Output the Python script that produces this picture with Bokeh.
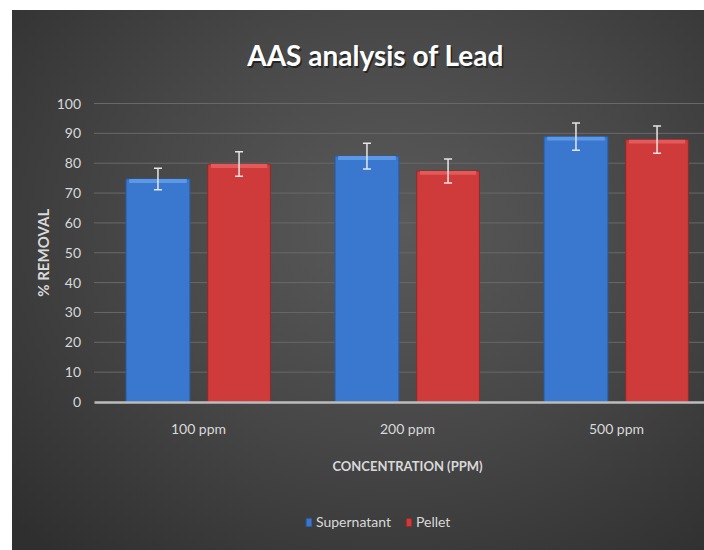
import math
from bokeh.plotting import figure
from bokeh.models import (Range1d, LinearAxis, FixedTicker, Whisker, ColumnDataSource,
                          Legend, LegendItem, Label)
from bokeh.core.properties import value
from bokeh.embed import file_html
from bokeh.resources import INLINE

# ---- data ----
categories = ["100 ppm", "200 ppm", "500 ppm"]
supernatant = [74.7, 82.4, 88.9]
supernatant_err = [3.6, 4.3, 4.6]
pellet = [79.7, 77.4, 87.9]
pellet_err = [4.1, 4.0, 4.6]
y_ticks = [0, 10, 20, 30, 40, 50, 60, 70, 80, 90, 100]

TXT = "#d9d9d9"
FONT = "Lato"

# the frame covers the whole chart area; the axes sit at fixed data locations inside it
p = figure(width=692, height=540, output_backend="svg", toolbar_location=None,
           x_range=Range1d(-0.89, 2.421), y_range=Range1d(-49.75, 131.16),
           x_axis_type=None, y_axis_type=None,
           min_border_left=0, min_border_top=0, min_border_right=0, min_border_bottom=0)
p.border_fill_color = None
p.background_fill_color = None
p.outline_line_color = None
p.styles = {"margin-left": "12px", "margin-top": "10px",
            "background": "radial-gradient(ellipse 75% 80% at 55% 40%, #5a5a5a 0%, #474747 50%, #2f2f2f 100%)"}

pos = list(range(len(categories)))
off = 0.194
bw = 0.306
xs = [i - off for i in pos]
xp = [i + off for i in pos]

src_s = ColumnDataSource(dict(x=xs, top=supernatant,
                              lo=[v - e for v, e in zip(supernatant, supernatant_err)],
                              hi=[v + e for v, e in zip(supernatant, supernatant_err)],
                              bev=[v - 1.3 for v in supernatant]))
src_p = ColumnDataSource(dict(x=xp, top=pellet,
                              lo=[v - e for v, e in zip(pellet, pellet_err)],
                              hi=[v + e for v, e in zip(pellet, pellet_err)],
                              bev=[v - 1.3 for v in pellet]))

# gridlines (10 .. 100) across the plot area only
p.segment(x0=-0.5, x1=2.6, y0=y_ticks[1:], y1=y_ticks[1:], line_color="#686868", line_width=1)

# y axis
yax = LinearAxis(ticker=FixedTicker(ticks=y_ticks), fixed_location=-0.5, bounds=(0, 100))
yax.axis_line_color = None
yax.major_tick_line_color = None
yax.minor_tick_line_color = None
yax.major_tick_out = 0
yax.major_tick_in = 0
yax.major_label_text_color = TXT
yax.major_label_text_font = FONT
yax.major_label_text_font_size = "14px"
yax.major_label_standoff = 13
p.add_layout(yax, "left")

# x axis
xax = LinearAxis(ticker=FixedTicker(ticks=pos), fixed_location=0, bounds=(-0.5, 2.6),
                 major_label_overrides={i: c for i, c in zip(pos, categories)})
xax.axis_line_color = "#bdbdbd"
xax.axis_line_width = 2.5
xax.major_tick_line_color = None
xax.minor_tick_line_color = None
xax.major_tick_out = 0
xax.major_tick_in = 0
xax.major_label_text_color = TXT
xax.major_label_text_font = FONT
xax.major_label_text_font_size = "14px"
xax.major_label_standoff = 18
p.add_layout(xax, "below")

rs = p.vbar(x="x", top="top", bottom=0, width=bw, source=src_s,
            fill_color="#3a78cf", line_color="#2a5a9c", line_width=1)
rp = p.vbar(x="x", top="top", bottom=0, width=bw * 0.98, source=src_p,
            fill_color="#cf3b3b", line_color="#8e2a2a", line_width=1)
# bevel highlights
p.vbar(x="x", top="top", bottom="bev", width=bw * 0.9, source=src_s,
       fill_color="#5d98e6", line_color=None)
p.vbar(x="x", top="top", bottom="bev", width=bw * 0.88, source=src_p,
       fill_color="#e45a5a", line_color=None)

for src in (src_s, src_p):
    w = Whisker(base="x", upper="hi", lower="lo", source=src, level="overlay",
                line_color="#e6e6e6", line_width=1.5)
    w.upper_head.line_color = "#e6e6e6"
    w.lower_head.line_color = "#e6e6e6"
    w.upper_head.size = 8
    w.lower_head.size = 8
    w.upper_head.line_width = 1.5
    w.lower_head.line_width = 1.5
    p.add_layout(w)

# title (with a soft shadow)
p.add_layout(Label(x=0.847, y=116.1, text="AAS analysis of Lead", x_offset=1.5, y_offset=-1.5,
                   text_align="center", text_baseline="middle", text_font=FONT,
                   text_font_style="bold", text_font_size="28px", text_color="#000000",
                   text_alpha=0.5))
p.add_layout(Label(x=0.847, y=116.1, text="AAS analysis of Lead",
                   text_align="center", text_baseline="middle", text_font=FONT,
                   text_font_style="bold", text_font_size="28px", text_color="#ffffff"))

# axis titles
p.add_layout(Label(x=1, y=-21.3, text="CONCENTRATION (PPM)",
                   text_align="center", text_baseline="middle", text_font=FONT,
                   text_font_style="bold", text_font_size="13px", text_color=TXT))
p.add_layout(Label(x=-0.742, y=50, text="% REMOVAL", angle=math.pi / 2,
                   text_align="center", text_baseline="middle", text_font=FONT,
                   text_font_style="bold", text_font_size="15px", text_color=TXT))

legend = Legend(items=[LegendItem(label="Supernatant", renderers=[rs]),
                       LegendItem(label="Pellet", renderers=[rp])],
                orientation="horizontal", location=(293, 20),
                background_fill_alpha=0, border_line_color=None,
                padding=0, margin=0, spacing=14,
                glyph_width=7, glyph_height=10, label_standoff=4,
                label_text_color=TXT, label_text_font=FONT, label_text_font_size="14px")
p.add_layout(legend, "center")

open("out.html", "w").write(file_html(p, INLINE))
